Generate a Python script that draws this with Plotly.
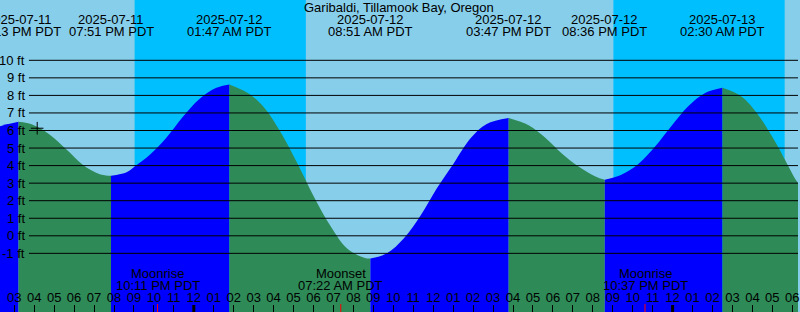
import plotly.graph_objects as go
import pandas as pd

TITLE = "Garibaldi, Tillamook Bay, Oregon"

# visible time window
RANGE_START = "2025-07-11 14:17:09"
RANGE_END = "2025-07-13 06:17:09"
FIRST_TICK = "2025-07-11 15:00"

# tide extremes
EXT_TIMES = ["2025-07-11 15:13", "2025-07-11 19:51", "2025-07-12 01:47",
             "2025-07-12 08:51", "2025-07-12 15:47", "2025-07-12 20:36",
             "2025-07-13 02:30"]
EXT_HEIGHTS = [6.50, 3.42, 8.62, -1.30, 6.71, 3.19, 8.43]
EXT_DATE_LABELS = ["2025-07-11", "2025-07-11", "2025-07-12", "2025-07-12",
                   "2025-07-12", "2025-07-12", "2025-07-13"]
EXT_TIME_LABELS = ["03:13 PM PDT", "07:51 PM PDT", "01:47 AM PDT", "08:51 AM PDT",
                   "03:47 PM PDT", "08:36 PM PDT", "02:30 AM PDT"]

# tide curve (ft)
CURVE_TIMES = [
    "2025-07-11 14:05", "2025-07-11 14:17", "2025-07-11 15:13", "2025-07-11 15:56",
    "2025-07-11 16:47", "2025-07-11 17:38", "2025-07-11 18:26", "2025-07-11 19:17",
    "2025-07-11 19:51", "2025-07-11 20:38", "2025-07-11 21:02", "2025-07-11 21:47",
    "2025-07-11 22:38", "2025-07-11 23:26", "2025-07-12 00:17", "2025-07-12 01:08",
    "2025-07-12 01:47", "2025-07-12 02:47", "2025-07-12 03:32", "2025-07-12 04:23",
    "2025-07-12 05:11", "2025-07-12 06:02", "2025-07-12 06:53", "2025-07-12 07:41",
    "2025-07-12 08:32", "2025-07-12 08:51", "2025-07-12 09:41", "2025-07-12 10:32",
    "2025-07-12 11:23", "2025-07-12 12:11", "2025-07-12 13:02", "2025-07-12 13:53",
    "2025-07-12 14:41", "2025-07-12 15:47", "2025-07-12 16:47", "2025-07-12 17:38",
    "2025-07-12 18:26", "2025-07-12 19:17", "2025-07-12 20:08", "2025-07-12 20:36",
    "2025-07-12 21:26", "2025-07-12 22:17", "2025-07-12 23:08", "2025-07-12 23:56",
    "2025-07-13 00:47", "2025-07-13 01:38", "2025-07-13 02:30", "2025-07-13 03:26",
    "2025-07-13 04:17", "2025-07-13 05:08", "2025-07-13 06:14", "2025-07-13 06:25",
]
CURVE_HEIGHTS = [
    6.10, 6.24, 6.50, 6.33,
    5.76, 4.90, 4.05, 3.51,
    3.42, 3.62, 3.95, 4.60,
    5.60, 6.75, 7.80, 8.43,
    8.62, 8.08, 7.30, 5.85,
    4.15, 2.20, 0.50, -0.72,
    -1.25, -1.30, -1.00, -0.14,
    1.19, 2.71, 4.14, 5.57,
    6.37, 6.71, 6.30, 5.57,
    4.71, 3.95, 3.38, 3.19,
    3.48, 4.09, 5.10, 6.24,
    7.38, 8.14, 8.43, 7.95,
    6.90, 5.38, 3.10, 2.85,
]

# sun: night bands
SUNSETS = ["2025-07-11 21:02", "2025-07-12 21:02"]
SUNRISES = ["2025-07-12 05:37", "2025-07-13 05:37"]

# moon events
MOON_TIMES = ["2025-07-11 22:11", "2025-07-12 07:22", "2025-07-12 22:37"]
MOON_NAMES = ["Moonrise", "Moonset", "Moonrise"]
MOON_LABELS = ["10:11 PM PDT", "07:22 AM PDT", "10:37 PM PDT"]

MIDNIGHTS = ["2025-07-12 00:00", "2025-07-13 00:00"]

NOW_TIME = ["2025-07-11 16:09"]
NOW_HEIGHT = [6.13]

Y_LEVELS = list(range(-1, 11))

# styling
SKY_DAY = "#87CEEB"
SKY_NIGHT = "#00BFFF"
FLOOD = "#0000FF"
EBB = "#2E8B57"
FONT = "Liberation Sans, Arial, sans-serif"
FS = 13
BASE = -8
W, H = 800, 312
Y_RANGE = [-4.342, 13.436]

ct = pd.to_datetime(pd.Series(CURVE_TIMES))
ch = pd.Series(CURVE_HEIGHTS)
et = pd.to_datetime(pd.Series(EXT_TIMES))

bounds = [ct.iloc[0]] + list(et) + [ct.iloc[-1]]

fig = go.Figure()
for a, b in zip(bounds[:-1], bounds[1:]):
    m = (ct >= a) & (ct <= b)
    st, sh = ct[m], ch[m]
    if len(st) < 2:
        continue
    col = FLOOD if sh.iloc[-1] > sh.iloc[0] else EBB
    fig.add_trace(go.Scatter(x=[st.iloc[0], st.iloc[-1]], y=[BASE, BASE], mode="lines",
                             line=dict(width=0), hoverinfo="skip", showlegend=False))
    fig.add_trace(go.Scatter(x=st, y=sh, mode="lines", fill="tonexty", fillcolor=col,
                             line=dict(width=0, color=col, shape="spline"),
                             hoverinfo="skip", showlegend=False))

fig.add_trace(go.Scatter(x=pd.to_datetime(pd.Series(NOW_TIME)), y=NOW_HEIGHT, mode="markers",
                         marker=dict(symbol="cross-thin", size=9, line=dict(width=1, color="black")),
                         hoverinfo="skip", showlegend=False))

shapes = []
for s, r in zip(SUNSETS, SUNRISES):
    shapes.append(dict(type="rect", xref="x", yref="paper", x0=s, x1=r, y0=0, y1=1,
                       fillcolor=SKY_NIGHT, line=dict(width=0), layer="below"))
for v in Y_LEVELS:
    shapes.append(dict(type="line", xref="paper", yref="y", x0=29 / W, x1=1, y0=v, y1=v,
                       line=dict(color="black", width=1), layer="above"))
for t in MIDNIGHTS:
    shapes.append(dict(type="line", xref="x", yref="paper", x0=t, x1=t, y0=0, y1=7 / H,
                       line=dict(color="black", width=3), layer="above"))
for t in MOON_TIMES:
    shapes.append(dict(type="line", xref="x", yref="paper", x0=t, x1=t, y0=0, y1=8 / H,
                       line=dict(color="red", width=1), layer="above"))

ann = []
tf = dict(family=FONT, size=FS, color="black")
ann.append(dict(text=TITLE, xref="paper", yref="paper", x=0.5, y=1 - 7.7 / H,
                xanchor="center", yanchor="middle", showarrow=False, font=tf))
for t, d, l in zip(EXT_TIMES, EXT_DATE_LABELS, EXT_TIME_LABELS):
    ann.append(dict(text=d, xref="x", yref="paper", x=t, y=1 - 19.5 / H,
                    xanchor="center", yanchor="middle", showarrow=False, font=tf))
    ann.append(dict(text=l, xref="x", yref="paper", x=t, y=1 - 31.2 / H,
                    xanchor="center", yanchor="middle", showarrow=False, font=tf))
for t, n, l in zip(MOON_TIMES, MOON_NAMES, MOON_LABELS):
    ann.append(dict(text=n, xref="x", yref="paper", x=t, y=1 - 273.7 / H,
                    xanchor="center", yanchor="middle", showarrow=False, font=tf))
    ann.append(dict(text=l, xref="x", yref="paper", x=t, y=1 - 285.3 / H,
                    xanchor="center", yanchor="middle", showarrow=False, font=tf))
for v in Y_LEVELS:
    ann.append(dict(text=f"{v} ft", xref="paper", yref="y", x=27.2 / W, y=v,
                    xanchor="right", yanchor="middle", showarrow=False, font=tf))

fig.update_layout(
    width=W, height=H, margin=dict(l=0, r=0, t=0, b=0),
    paper_bgcolor=SKY_DAY, plot_bgcolor=SKY_DAY,
    shapes=shapes, annotations=ann, showlegend=False,
    xaxis=dict(type="date", range=[RANGE_START, RANGE_END], tick0=FIRST_TICK, dtick=3600000,
               tickformat="%I", ticks="inside", ticklen=7, tickwidth=1, tickcolor="black",
               ticklabelposition="inside", ticklabeloverflow="allow",
               showgrid=False, zeroline=False, showline=False,
               tickfont=tf, fixedrange=True),
    yaxis=dict(range=Y_RANGE, visible=False, fixedrange=True),
)

fig.write_html("out.html", config={"displayModeBar": False})
